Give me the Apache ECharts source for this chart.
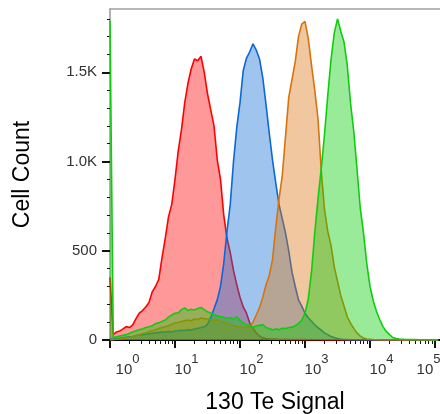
<!DOCTYPE html>
<html>
<head>
<meta charset="utf-8">
<script src="https://cdn.jsdelivr.net/npm/echarts@6/dist/echarts.min.js"></script>
<style>
  html, body { margin: 0; padding: 0; background: #fff; }
  #chart { width: 440px; height: 414px; }
</style>
</head>
<body>
<div id="chart"></div>
<script>
// histogram bins in log10(signal) units, 0.05 wide, starting at 10^0
const binStep = 0.05
const binCount = 102

// cell counts per bin
const redCounts = [
  350, 30, 45, 50, 62, 75, 70, 85, 120, 150,
  165, 185, 210, 270, 300, 340, 460, 570, 690, 760,
  900, 1060, 1180, 1330, 1440, 1520, 1575, 1565, 1590, 1500,
  1380, 1290, 1200, 1010, 900, 700, 570, 490, 390, 310,
  240, 185, 150, 95, 65, 40, 22, 12, 8, 6,
  5, 6, 4, 3, 4, 3, 2, 2, 3, 2,
  2, 1, 2, 1, 1, 1, 0, 1, 0, 0,
  0, 0, 0, 0, 0, 0, 0, 0, 0, 0,
  0, 0, 0, 0, 0, 0, 0, 0, 0, 0,
  0, 0, 0, 0, 0, 0, 0, 0, 0, 0,
  0, 0
]
const blueCounts = [
  5, 5, 8, 10, 12, 15, 18, 20, 25, 28,
  30, 32, 35, 38, 40, 42, 44, 45, 48, 45,
  50, 52, 55, 53, 58, 56, 62, 65, 70, 74,
  88, 125, 175, 225, 300, 430, 610, 760, 1000, 1190,
  1330, 1510, 1580, 1615, 1660, 1625, 1575, 1470, 1320, 1160,
  1010, 880, 760, 680, 600, 500, 380, 300, 225, 190,
  150, 125, 105, 85, 70, 55, 40, 30, 20, 14,
  8, 5, 3, 2, 1, 1, 0, 0, 0, 0,
  0, 0, 0, 0, 0, 0, 0, 0, 0, 0,
  0, 0, 0, 0, 0, 0, 0, 0, 0, 0,
  0, 0
]
const orangeCounts = [
  0, 2, 4, 6, 8, 12, 15, 20, 25, 30,
  36, 40, 48, 52, 58, 64, 70, 74, 80, 88,
  95, 98, 104, 108, 112, 108, 118, 115, 123, 120,
  118, 114, 110, 112, 104, 100, 92, 85, 80, 75,
  72, 70, 72, 75, 100, 140, 180, 240, 310, 360,
  450, 630, 790, 920, 1140, 1360, 1460, 1560, 1700, 1770,
  1785, 1690, 1540, 1400, 1240, 950, 730, 610, 530, 410,
  330, 250, 190, 130, 95, 65, 40, 22, 11, 6,
  4, 2, 1, 1, 0, 0, 0, 0, 0, 0,
  0, 0, 0, 0, 0, 0, 0, 0, 0, 0,
  0, 0
]
const greenCounts = [
  1790, 12, 18, 22, 26, 30, 38, 45, 52, 58,
  62, 70, 74, 80, 92, 96, 104, 112, 128, 140,
  150, 152, 170, 180, 165, 172, 168, 176, 182, 170,
  158, 150, 142, 136, 130, 128, 122, 125, 118, 130,
  110, 95, 86, 80, 72, 78, 82, 86, 70, 64,
  56, 62, 58, 66, 64, 70, 72, 80, 92, 110,
  150, 230, 380, 600, 790, 960, 1150, 1370, 1570, 1720,
  1800, 1730, 1670, 1540, 1330, 1170, 960, 740, 600, 430,
  300, 220, 160, 115, 75, 48, 30, 14, 8, 5,
  4, 3, 3, 2, 2, 1, 1, 1, 1, 0,
  0, 0
]

// axis ticks
const decadeTicks = [0, 1, 2, 3, 4, 5]          // 10^0 .. 10^5
const countTicks = [0, 500, 1000, 1500]
const countMinorTicks = [100, 200, 300, 400, 600, 700, 800, 900, 1100, 1200, 1300, 1400, 1600, 1700, 1800]

// minor log ticks 2..9 inside each decade
const decadeMinorTicks = []
for (let d = 0; d < 5; d++) {
  for (let k = 2; k <= 9; k++) decadeMinorTicks.push(d + Math.log10(k))
}

const toPoints = counts => counts.slice(0, binCount).map((c, i) => [i * binStep, c])

const font = 'Liberation Sans, Arial, sans-serif'

const mkSeries = (name, counts, color, fill, z) => ({
  name: name,
  type: 'line',
  data: toPoints(counts),
  symbol: 'none',
  z: z,
  lineStyle: { color: color, width: 1.6 },
  areaStyle: { color: fill, opacity: 1 },
  silent: true
})

const chart = echarts.init(document.getElementById('chart'))

chart.setOption({
  animation: false,
  backgroundColor: '#fff',
  grid: { left: 110, right: 0, top: 9, bottom: 74, outerBoundsMode: 'none' },
  xAxis: [
    {
      type: 'value',
      min: 0,
      max: 5.077,
      name: '130 Te Signal',
      nameLocation: 'middle',
      nameGap: 51,
      nameTextStyle: { fontSize: 23, color: '#000', fontFamily: font },
      splitLine: { show: false },
      axisLine: { lineStyle: { color: '#000', width: 2 } },
      axisTick: { customValues: decadeTicks, length: 8, lineStyle: { color: '#111', width: 2 } },
      axisLabel: {
        customValues: decadeTicks,
        margin: 22,
        hideOverlap: false,
        formatter: (v) => {
          if (v === 0) return '{p0|}{b|10}{s|0}'
          if (v === 5) return '{b|10}{s|5}{q|}'
          return '{p|}{b|10}{s|' + v + '}'
        },
        rich: {
          b: { fontSize: 15, color: '#333', fontFamily: font, verticalAlign: 'bottom', lineHeight: 15 },
          s: { fontSize: 13, color: '#333', fontFamily: font, verticalAlign: 'bottom', lineHeight: 13, padding: [0, 0, 11, 0] },
          p: { width: 23 },
          p0: { width: 35 },
          q: { width: 13 }
        }
      }
    },
    {
      type: 'value',
      min: 0,
      max: 5.077,
      position: 'bottom',
      splitLine: { show: false },
      axisLine: { show: false },
      axisLabel: { show: false },
      axisTick: { customValues: decadeMinorTicks, length: 4, lineStyle: { color: '#111', width: 1 } }
    },
    {
      type: 'value',
      min: 0,
      max: 5.077,
      position: 'top',
      splitLine: { show: false },
      axisLine: { lineStyle: { color: '#a0a0a0', width: 1.5 } },
      axisLabel: { show: false },
      axisTick: { show: false }
    }
  ],
  yAxis: [
    {
      type: 'value',
      min: 0,
      max: 1855,
      name: 'Cell Count',
      nameLocation: 'middle',
      nameGap: 76,
      nameTextStyle: { fontSize: 23, color: '#000', fontFamily: font },
      splitLine: { show: false },
      axisLine: { show: true, lineStyle: { color: '#999', width: 1.5 } },
      axisTick: { customValues: countTicks, length: 8, lineStyle: { color: '#111', width: 2 } },
      axisLabel: {
        customValues: countTicks,
        margin: 13,
        fontSize: 15,
        color: '#333',
        fontFamily: font,
        formatter: v => v >= 1000 ? (v / 1000).toFixed(1) + 'K' : String(v)
      }
    },
    {
      type: 'value',
      min: 0,
      max: 1855,
      position: 'left',
      splitLine: { show: false },
      axisLine: { show: false },
      axisLabel: { show: false },
      axisTick: { customValues: countMinorTicks, length: 3, lineStyle: { color: '#111', width: 1 } }
    }
  ],
  series: [
    mkSeries('red', redCounts, '#ff0000', 'rgba(255,0,0,0.4)', 2),
    mkSeries('blue', blueCounts, '#0b68d4', 'rgba(16,110,215,0.4)', 3),
    mkSeries('orange', orangeCounts, '#d9730d', 'rgba(217,115,13,0.4)', 4),
    mkSeries('green', greenCounts, '#10cc10', 'rgba(0,204,0,0.4)', 5)
  ]
})
</script>
</body>
</html>
